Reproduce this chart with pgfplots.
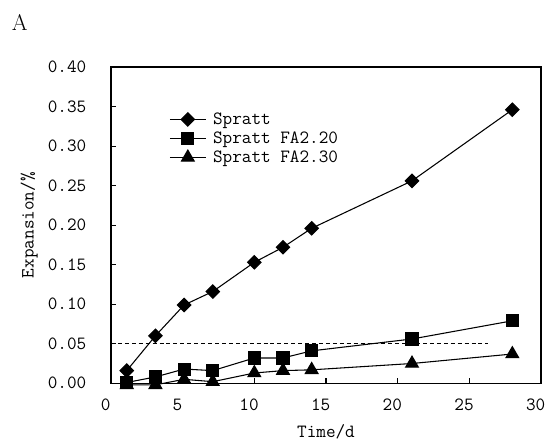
\documentclass[border=0pt]{standalone}
\usepackage{pgfplots}
\pgfplotsset{compat=1.18}
\newcommand{\tickfont}{\ttfamily\fontsize{14}{16}\selectfont}
\begin{document}
\begin{tikzpicture}
\useasboundingbox (-83.25pt,-47pt) rectangle (325.5pt,287.45pt);
\begin{axis}[
  at={(0,0)}, anchor=south west,
  scale only axis,
  width=322.5pt, height=237.2pt,
  xmin=0, xmax=30, ymin=0, ymax=0.4,
  xtick={0,5,10,15,20,25,30},
  xticklabels={0,5,10,15,20,25,30},
  ytick={0,0.05,0.1,0.15,0.2,0.25,0.3,0.35,0.4},
  yticklabels={0.00,0.05,0.10,0.15,0.20,0.25,0.30,0.35,0.40},
  tick align=inside,
  xtick pos=bottom, ytick pos=left,
  major tick length=4pt,
  axis line style={line width=1.1pt},
  every tick/.style={black, line width=0.8pt},
  /pgf/number format/assume math mode=true,
  yticklabel style={font=\tickfont, xshift=-15pt},
  xticklabel style={font=\tickfont, yshift=-8.5pt, xshift=-4pt},
  scaled y ticks=false,
  xlabel={Time/d},
  ylabel={Expansion/\%},
  label style={font=\tickfont},
  xlabel style={at={(axis description cs:0.5,0)}, anchor=center, yshift=-36.5pt},
  ylabel style={at={(axis description cs:-0.19,0.5)}, anchor=center},
  legend style={draw=none, fill=none, at={(rel axis cs:0.135,0.865)}, anchor=north west,
    font=\tickfont, inner sep=0pt, row sep=0pt, column sep=3pt,
    legend cell align=left},
  legend image code/.code={\draw[mark repeat=2,mark phase=2] plot coordinates {(0pt,0pt) (13.5pt,0pt) (27pt,0pt)};},
  clip=false,
]
\addplot[black, line width=0.8pt, mark=square*, mark size=3.55pt, mark options={rotate=45, solid, fill=black}]
  coordinates {(1.1,0.016) (3.1,0.060) (5.1,0.099) (7.1,0.116) (10,0.153) (12,0.172) (14,0.196) (21,0.256) (28,0.346)};
\addlegendentry{Spratt}
\addplot[black, line width=0.8pt, mark=square*, mark size=4.5pt, mark options={solid, fill=black}]
  coordinates {(1.1,0.001) (3.1,0.008) (5.1,0.018) (7.1,0.016) (10,0.032) (12,0.032) (14,0.041) (21,0.056) (28,0.079)};
\addlegendentry{Spratt FA2.20}
\addplot[black, line width=0.8pt, mark=triangle*, mark size=5.5pt, mark options={solid, fill=black}]
  coordinates {(1.1,-0.002) (3.1,-0.002) (5.1,0.005) (7.1,0.002) (10,0.013) (12,0.016) (14,0.017) (21,0.025) (28,0.037)};
\addlegendentry{Spratt FA2.30}
\addplot[black, line width=0.7pt, dashed, dash pattern=on 3pt off 2.2pt, forget plot]
  coordinates {(0,0.05) (26.3,0.05)};
\node[font=\fontsize{17}{19}\selectfont, anchor=center] at (rel axis cs:-0.212,1.142) {A};
\end{axis}
\end{tikzpicture}
\end{document}
